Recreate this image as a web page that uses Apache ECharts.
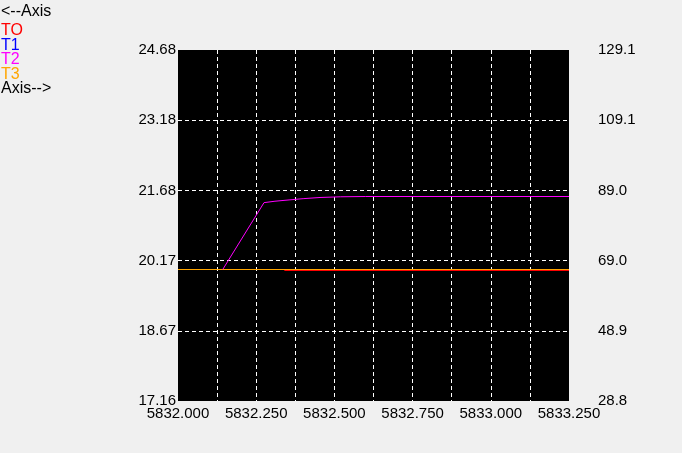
<!DOCTYPE html>
<html>
<head>
<meta charset="utf-8">
<script src="https://cdn.jsdelivr.net/npm/echarts@6/dist/echarts.min.js"></script>
<style>
  html, body { margin: 0; padding: 0; background: #f0f0f0; }
  #chart { width: 682px; height: 453px; }
</style>
</head>
<body>
<div id="chart"></div>
<script>
// tick labels
var xLabels = ["5832.000", "", "5832.250", "", "5832.500", "", "5832.750", "", "5833.000", "", "5833.250"];
var leftLabels = ["17.16", "18.67", "20.17", "21.68", "23.18", "24.68"];
var rightLabels = ["28.8", "48.9", "69.0", "89.0", "109.1", "129.1"];
var keyLabels = ["TO", "T1", "T2", "T3"];

// series (x = time, y = left axis units)
var xT0 = [5832.34, 5833.25];
var yT0 = [19.956, 19.956];
var xT1 = [];
var yT1 = [];
var xT2 = [5832.143, 5832.275, 5832.31, 5832.358, 5832.40, 5832.454, 5832.52, 5832.60, 5833.25];
var yT2 = [19.977, 21.41, 21.44, 21.47, 21.495, 21.52, 21.535, 21.541, 21.541];
var xT3 = [5832.0, 5833.25];
var yT3 = [19.977, 19.977];

var colors = ["#ff0000", "#0000ff", "#ff00ff", "#ffa500"];

function pairs(xs, ys) {
  return xs.map(function (x, i) { return [x, ys[i]]; });
}

var chart = echarts.init(document.getElementById("chart"));
var font = "Liberation Sans, Arial, sans-serif";

function line(name, color, xs, ys) {
  return {
    name: name,
    type: "line",
    data: pairs(xs, ys),
    showSymbol: false,
    animation: false,
    lineStyle: { color: color, width: 1 },
    itemStyle: { color: color }
  };
}

function keyText(text, y, color) {
  return {
    type: "text",
    left: 1,
    y: y,
    style: {
      text: text,
      fill: color,
      font: "16px " + font,
      verticalAlign: "middle"
    }
  };
}

// left-hand key: axis arrows + coloured channel names
var keys = [keyText("<--Axis", 11.5, "#000")];
keyLabels.forEach(function (k, i) {
  keys.push(keyText(k, 30.5 + i * 14.6, colors[i]));
});
keys.push(keyText("Axis-->", 89, "#000"));

var grid = { color: "#fff", width: 1, type: [4, 3] };

chart.setOption({
  backgroundColor: "#f0f0f0",
  graphic: keys,
  grid: {
    left: 178,
    right: 113,
    top: 50,
    bottom: 52,
    show: true,
    backgroundColor: "#000",
    borderWidth: 0
  },
  xAxis: {
    type: "value",
    min: 5832,
    max: 5833.25,
    interval: 0.125,
    axisLine: { show: false },
    axisTick: { show: false },
    axisLabel: {
      margin: 5,
      color: "#000",
      fontFamily: font,
      fontSize: 15,
      formatter: function (v, i) { return xLabels[i]; }
    },
    splitLine: { show: true, showMinLine: false, showMaxLine: false, lineStyle: grid }
  },
  yAxis: [
    {
      type: "value",
      min: 17.16,
      max: 24.68,
      interval: 1.504,
      axisLine: { show: false },
      axisTick: { show: false },
      axisLabel: {
        margin: 2,
        color: "#000",
        fontFamily: font,
        fontSize: 15,
        formatter: function (v, i) { return leftLabels[i]; }
      },
      splitLine: { show: true, showMinLine: false, showMaxLine: false, lineStyle: grid }
    },
    {
      type: "value",
      position: "right",
      min: 28.8,
      max: 129.1,
      interval: 20.06,
      axisLine: { show: false },
      axisTick: { show: false },
      axisLabel: {
        margin: 29,
        color: "#000",
        fontFamily: font,
        fontSize: 15,
        formatter: function (v, i) { return rightLabels[i]; }
      },
      splitLine: { show: false }
    }
  ],
  series: [
    line("T0", colors[0], xT0, yT0),
    line("T1", colors[1], xT1, yT1),
    line("T3", colors[3], xT3, yT3),
    line("T2", colors[2], xT2, yT2)
  ]
});
</script>
</body>
</html>
